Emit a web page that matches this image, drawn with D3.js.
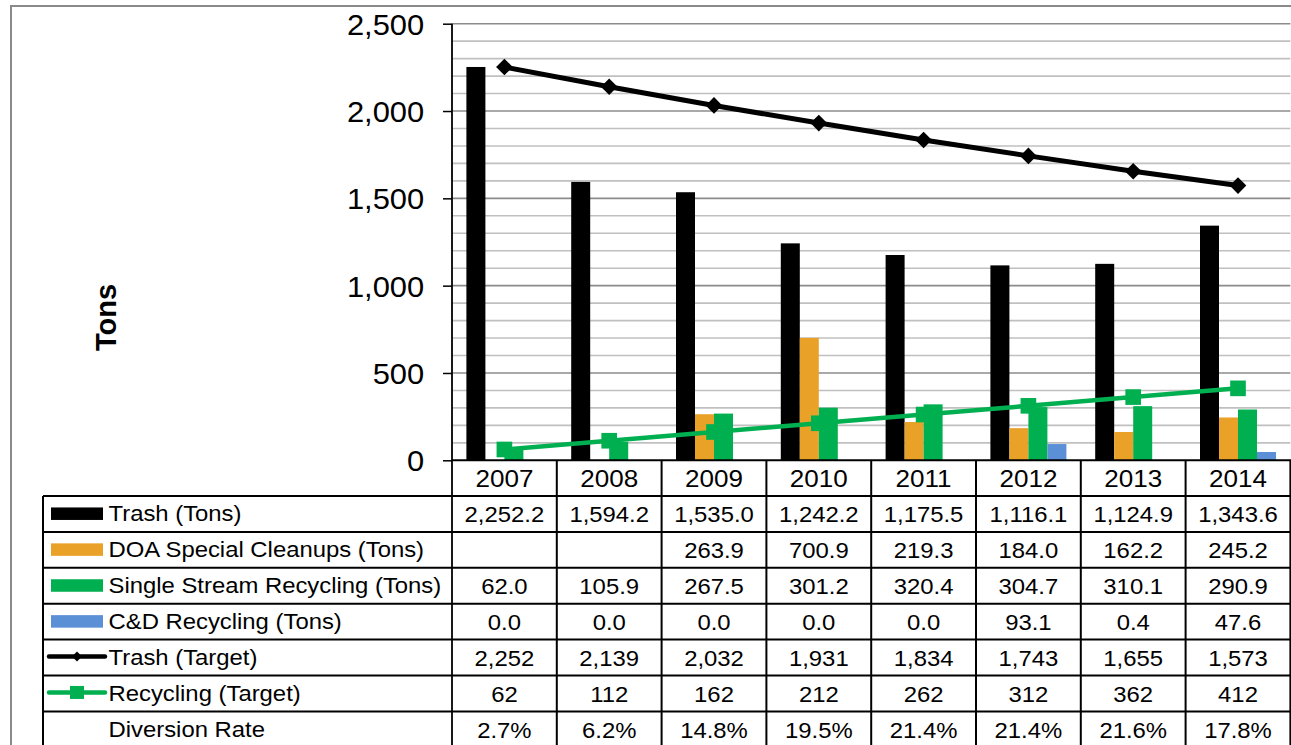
<!DOCTYPE html>
<html>
<head>
<meta charset="utf-8">
<script src="https://cdn.jsdelivr.net/npm/d3@7"></script>
<style>
  html, body { margin: 0; padding: 0; background: #fff; overflow: hidden; }
  text { font-family: Arial, "Liberation Sans", sans-serif; fill: #000; }
</style>
</head>
<body>
<svg id="chart" width="1291" height="745"></svg>
<script>
// ---- data -------------------------------------------------------------
const years = ["2007", "2008", "2009", "2010", "2011", "2012", "2013", "2014"];
const trashTons = [2252.2, 1594.2, 1535.0, 1242.2, 1175.5, 1116.1, 1124.9, 1343.6];
const doaCleanups = [null, null, 263.9, 700.9, 219.3, 184.0, 162.2, 245.2];
const singleStream = [62.0, 105.9, 267.5, 301.2, 320.4, 304.7, 310.1, 290.9];
const cdRecycling = [0.0, 0.0, 0.0, 0.0, 0.0, 93.1, 0.4, 47.6];
const trashTarget = [2252, 2139, 2032, 1931, 1834, 1743, 1655, 1573];
const recyclingTarget = [62, 112, 162, 212, 262, 312, 362, 412];
const diversionRate = [2.7, 6.2, 14.8, 19.5, 21.4, 21.4, 21.6, 17.8];
const yTickValues = [0, 500, 1000, 1500, 2000, 2500];

const barSeries = [
  { name: "Trash (Tons)", values: trashTons, color: "#000000", fmt: d3.format(",.1f") },
  { name: "DOA Special Cleanups (Tons)", values: doaCleanups, color: "#E9A227", fmt: d3.format(",.1f") },
  { name: "Single Stream Recycling (Tons)", values: singleStream, color: "#00B050", fmt: d3.format(",.1f") },
  { name: "C&D Recycling (Tons)", values: cdRecycling, color: "#5B8FD6", fmt: d3.format(",.1f") }
];
const lineSeries = [
  { name: "Trash (Target)", values: trashTarget, color: "#000000", marker: "diamond", fmt: d3.format(",d") },
  { name: "Recycling (Target)", values: recyclingTarget, color: "#00B050", marker: "square", fmt: d3.format(",d") }
];

// ---- layout -----------------------------------------------------------
const svg = d3.select("#chart");
const plotLeft = 452, plotRight = 1290.4, plotTop = 23.7, plotBottom = 460.3;
const tableLeft = 43, rowH = 35.9, firstRowTop = 496, tableBottom = 760;
const textSX = 1.085;  // slightly wide lettering

const x = d3.scaleBand().domain(years).range([plotLeft, plotRight]);
const inner = d3.scaleBand().domain(barSeries.map(s => s.name))
  .range([14.4, x.bandwidth() - 14.4]);
const y = d3.scaleLinear().domain([0, 2500]).range([plotBottom, plotTop]);
const cx = yr => x(yr) + x.bandwidth() / 2;

// chart frame
svg.append("path")
  .attr("d", `M11,760 V6 H1300`)
  .attr("fill", "none").attr("stroke", "#8a8a8a").attr("stroke-width", 2);

// gridlines
const grid = svg.append("g");
d3.range(100, 2501, 100).forEach(v => {
  grid.append("line")
    .attr("x1", plotLeft).attr("x2", plotRight)
    .attr("y1", y(v)).attr("y2", y(v))
    .attr("stroke", v % 500 === 0 ? "#8c8c8c" : "#c0c0c0")
    .attr("stroke-width", 1.6);
});

// bars
barSeries.forEach(s => {
  svg.append("g").selectAll("rect")
    .data(years.map((yr, i) => ({ yr, v: s.values[i] })).filter(d => d.v != null && d.v > 0))
    .join("rect")
    .attr("x", d => x(d.yr) + inner(s.name))
    .attr("width", inner.bandwidth())
    .attr("y", d => y(d.v))
    .attr("height", d => y(0) - y(d.v))
    .attr("fill", s.color);
});

// y axis
const yAxis = svg.append("g")
  .attr("transform", `translate(${plotLeft},0)`)
  .call(d3.axisLeft(y).tickValues(yTickValues).tickSize(9).tickPadding(18)
    .tickFormat(d3.format(",")));
yAxis.select(".domain").remove();
yAxis.selectAll(".tick line").attr("stroke", "#000").attr("stroke-width", 1.5);
yAxis.selectAll(".tick text")
  .attr("font-size", 30)
  .attr("font-family", "Arial, 'Liberation Sans', sans-serif")
  .attr("dy", null).attr("y", 10.5)
  .attr("transform", "scale(1.03,1)");

// target lines
const markerPath = {
  diamond: d3.symbol(d3.symbolSquare, 138)(),
  square: d3.symbol(d3.symbolSquare, 245)()
};
lineSeries.forEach(s => {
  const pts = years.map((yr, i) => [cx(yr), y(s.values[i])]);
  svg.append("path")
    .attr("d", d3.line()(pts))
    .attr("fill", "none")
    .attr("stroke", s.color)
    .attr("stroke-width", s.marker === "diamond" ? 5 : 4.5)
    .attr("stroke-linejoin", "round");
  svg.append("g").selectAll("path")
    .data(pts).join("path")
    .attr("d", markerPath[s.marker])
    .attr("transform", d => `translate(${d[0]},${d[1]})` + (s.marker === "diamond" ? " rotate(45)" : ""))
    .attr("fill", s.color);
});

// axis title
svg.append("text")
  .attr("transform", "translate(116,317.5) rotate(-90)")
  .attr("text-anchor", "middle")
  .attr("font-size", 29).attr("font-weight", "bold")
  .text("Tons");

// ---- data table -------------------------------------------------------
const table = svg.append("g");
const rows = [
  ...barSeries.map(s => ({ label: s.name, key: "bar", s })),
  ...lineSeries.map(s => ({ label: s.name, key: "line", s })),
  { label: "Diversion Rate", key: "none", s: { values: diversionRate, fmt: v => v.toFixed(1) + "%" } }
];

function stretchedText(g, tx, ty, size, anchor, str) {
  g.append("text")
    .attr("transform", `translate(${tx},${ty}) scale(${textSX},1)`)
    .attr("text-anchor", anchor)
    .attr("font-size", size)
    .text(str);
}

// year header
years.forEach(yr => stretchedText(table, cx(yr), (plotBottom + firstRowTop) / 2 + 8.8, 24, "middle", yr));

rows.forEach((r, i) => {
  const top = firstRowTop + i * rowH;
  const mid = top + rowH / 2;
  // legend key
  if (r.key === "bar") {
    table.append("rect").attr("x", 51).attr("y", mid - 6.5).attr("width", 52).attr("height", 12.5)
      .attr("fill", r.s.color);
  } else if (r.key === "line") {
    table.append("line").attr("x1", 49).attr("x2", 105).attr("y1", mid - 1).attr("y2", mid - 1)
      .attr("stroke", r.s.color).attr("stroke-width", 4.5).attr("stroke-linecap", "round");
    if (r.s.marker === "diamond") {
      table.append("path").attr("d", d3.symbol(d3.symbolSquare, 50)())
        .attr("transform", `translate(77,${mid - 1}) rotate(45)`).attr("fill", r.s.color);
    } else {
      table.append("rect").attr("x", 70).attr("y", mid - 7.5).attr("width", 14).attr("height", 13)
        .attr("fill", r.s.color);
    }
  }
  stretchedText(table, 108.5, mid + 7.5, 22, "start", r.label);
  years.forEach((yr, j) => {
    const v = r.s.values[j];
    if (v != null) stretchedText(table, cx(yr), mid + 8.2, 22, "middle", r.s.fmt(v));
  });
});

// table grid
const tl = (x1, y1, x2, y2) => table.append("line")
  .attr("x1", x1).attr("y1", y1).attr("x2", x2).attr("y2", y2)
  .attr("stroke", "#000").attr("stroke-width", 2);
for (let i = 0; i <= rows.length; i++) {
  const yy = firstRowTop + i * rowH;
  tl(tableLeft, yy, plotRight + 1, yy);
}
tl(plotLeft, plotBottom, plotRight + 1, plotBottom);
tl(tableLeft, firstRowTop, tableLeft, tableBottom);
years.forEach(yr => tl(x(yr) + x.bandwidth(), plotBottom, x(yr) + x.bandwidth(), tableBottom));
// value axis line continues down as the key column border
svg.append("line").attr("x1", plotLeft).attr("x2", plotLeft)
  .attr("y1", plotTop).attr("y2", tableBottom)
  .attr("stroke", "#000").attr("stroke-width", 1.8);
</script>
</body>
</html>
